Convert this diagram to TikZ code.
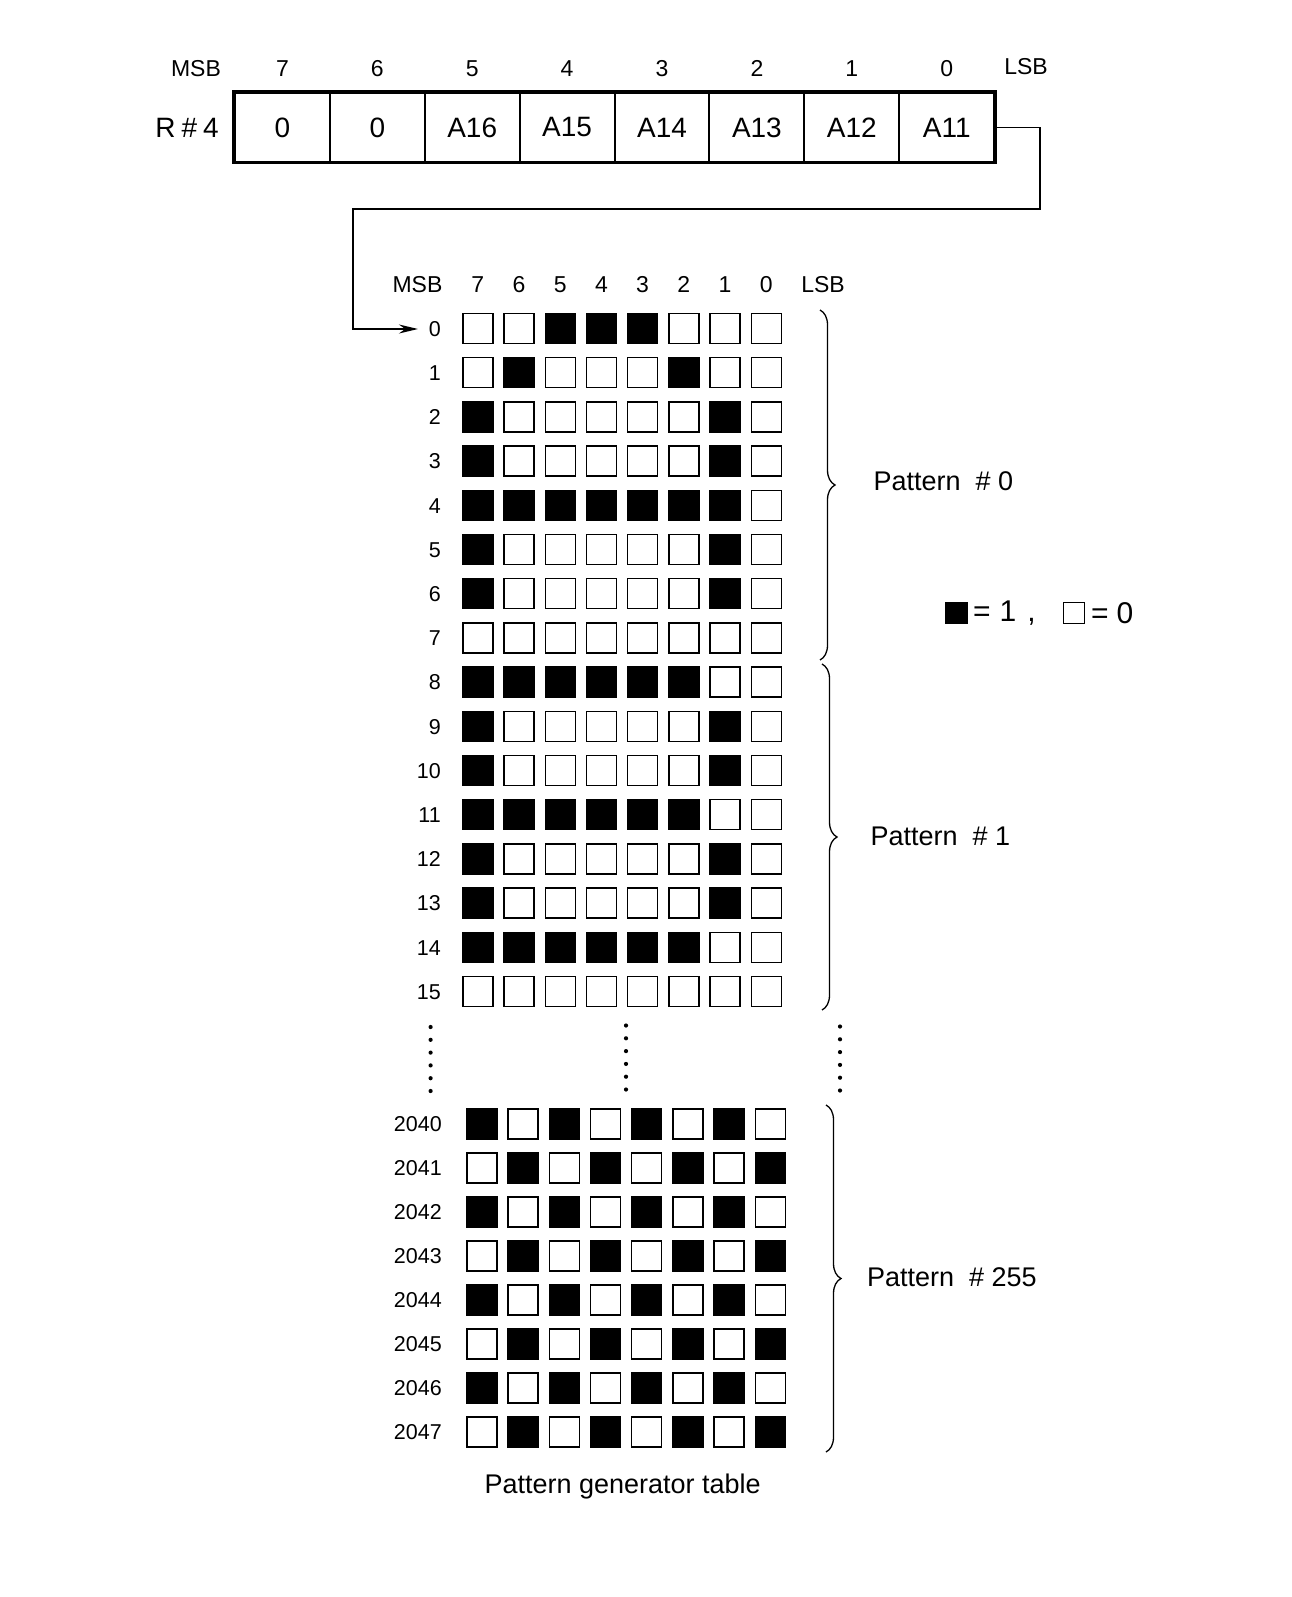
\documentclass[tikz,border=0pt]{standalone}
\usepackage{fontspec}
\setmainfont{Liberation Sans}
\usetikzlibrary{arrows.meta,decorations.pathreplacing}
\begin{document}
\begin{tikzpicture}[x=1pt,y=-1pt,
  regcell/.style={draw,line width=2pt,minimum width=94.9pt,minimum height=69pt,inner sep=0,font=\fontsize{28}{30}\selectfont},
  hdr/.style={font=\fontsize{23}{26}\selectfont,anchor=base,inner sep=0,yshift=-8.2pt},
  rowlab/.style={font=\fontsize{21.5}{24}\selectfont,anchor=base east,inner sep=0,yshift=-7.7pt},
  cell/.style={draw,line width=1.4pt,minimum size=30pt,inner sep=0},
  bit0/.style={fill=white}, bit1/.style={fill=black},
  plab/.style={font=\fontsize{27}{30}\selectfont,anchor=west},
  brc/.style={decorate,decoration={brace,amplitude=15pt},line width=1.3pt},
  dotc/.style={fill=black,circle,inner sep=0,minimum size=4.2pt},
  link/.style={line width=1.5pt,-{Stealth[length=19pt,width=9pt]}},
  legsq/.style={draw,line width=1.2pt,minimum size=21pt,inner sep=0},
  legtx/.style={font=\fontsize{30}{32}\selectfont,inner sep=0}
]
\useasboundingbox (0,0) rectangle (1291,1597);

% ---- register R#4 ----
\node[hdr] (rmsb) at (196,68) {MSB};
\foreach \d [count=\i from 0] in {7,6,5,4,3,2,1,0}
  \node[hdr] (rh\d) at (282.4+94.9*\i,68) {\d};
\node[hdr] (rlsb) at (1026,66) {LSB};
\node[font=\fontsize{28}{30}\selectfont] (rname) at (187,127.5) {R\kern6pt\#\kern6pt4};
\foreach \t [count=\i from 0] in {0,0,A16,A15,A14,A13,A12,A11}
  \node[regcell] (r\i) at (282.4+94.9*\i,127.5) {\t};
\draw[line width=3pt] (r0.north west) rectangle (r7.south east);

% ---- grid header ----
\node[hdr] (gmsb) at (417.5,284) {MSB};
\foreach \d [count=\i from 0] in {7,6,5,4,3,2,1,0}
  \node[hdr] (gh\d) at (477.8+41.2*\i,284) {\d};
\node[hdr] (glsb) at (823,284) {LSB};

% ---- top grid (rows 0..15) ----
\foreach \r/\bits in {
  0/{0,0,1,1,1,0,0,0},
  1/{0,1,0,0,0,1,0,0},
  2/{1,0,0,0,0,0,1,0},
  3/{1,0,0,0,0,0,1,0},
  4/{1,1,1,1,1,1,1,0},
  5/{1,0,0,0,0,0,1,0},
  6/{1,0,0,0,0,0,1,0},
  7/{0,0,0,0,0,0,0,0},
  8/{1,1,1,1,1,1,0,0},
  9/{1,0,0,0,0,0,1,0},
  10/{1,0,0,0,0,0,1,0},
  11/{1,1,1,1,1,1,0,0},
  12/{1,0,0,0,0,0,1,0},
  13/{1,0,0,0,0,0,1,0},
  14/{1,1,1,1,1,1,0,0},
  15/{0,0,0,0,0,0,0,0}}{
  \node[rowlab] (l\r) at (441,328.5+44.2*\r) {\r};
  \foreach \b [count=\c from 0] in \bits
    \node[cell,bit\b] (g\r-\c) at (477.8+41.2*\c,328.5+44.2*\r) {};
}

% ---- bottom grid (rows 2040..2047) ----
\foreach \r/\bits [count=\k from 0] in {
  2040/{1,0,1,0,1,0,1,0},
  2041/{0,1,0,1,0,1,0,1},
  2042/{1,0,1,0,1,0,1,0},
  2043/{0,1,0,1,0,1,0,1},
  2044/{1,0,1,0,1,0,1,0},
  2045/{0,1,0,1,0,1,0,1},
  2046/{1,0,1,0,1,0,1,0},
  2047/{0,1,0,1,0,1,0,1}}{
  \node[rowlab] (l\r) at (442,1124+44*\k) {\r};
  \foreach \b [count=\c from 0] in \bits
    \node[cell,bit\b] (g\r-\c) at (481.8+41.2*\c,1124+44*\k) {};
}

% ---- vertical ellipses ----
\foreach \j in {0,...,5}{
  \node[dotc] (dl\j) at (430.6,1027+12.8*\j) {};
  \node[dotc] (dm\j) at (626,1025.5+12.8*\j) {};
  \node[dotc] (dr\j) at (840,1026.5+12.8*\j) {};
}

% ---- connector ----
\coordinate (k1) at (1040,209);
\coordinate (k2) at (353,329);
\coordinate (ka) at (418,329);
\draw[link] (r7.east) -| (k1) -| (k2) -- (ka);

% ---- braces and labels ----
\draw[brc] (820,310) -- (820,660);
\draw[brc] (822,664) -- (822,1010);
\draw[brc] (826,1105) -- (826,1452);
\node[plab] (p0) at (870,481.6) {Pattern\ \ \# 0};
\node[plab] (p1) at (867,836) {Pattern\ \ \# 1};
\node[plab] (p255) at (863.5,1277) {Pattern\ \ \# 255};

% ---- legend ----
\node[legsq,fill=black] (lb) at (956.5,613) {};
\node[legtx,anchor=west] (lt1) at (973,613) {=\kern9pt1\kern11pt,};
\node[legsq,fill=white] (lw) at (1074,613) {};
\node[legtx,anchor=west] (lt0) at (1091,613) {=\kern8pt0};

% ---- caption ----
\node[font=\fontsize{27}{30}\selectfont] (cap) at (622.6,1486.6) {Pattern generator table};
\end{tikzpicture}
\end{document}
